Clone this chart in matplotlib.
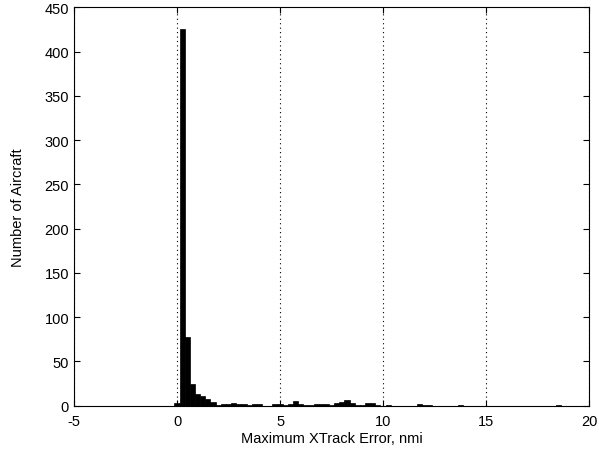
import numpy as np
import matplotlib.pyplot as plt

plt.rcParams['font.family'] = ['Liberation Sans', 'DejaVu Sans']
plt.rcParams['axes.unicode_minus'] = False

# histogram bins (centre of each bin, nmi) and counts
bin_centers = np.arange(0, 18.75, 0.25)
counts = [3, 425, 78, 25, 13, 11, 8, 4, 1, 2,
          2, 3, 2, 2, 1, 2, 2, 0, 0, 2,
          2, 1, 2, 5, 2, 1, 1, 2, 2, 2,
          1, 3, 4, 6, 3, 1, 1, 3, 3, 1,
          0, 1, 0, 0, 0, 0, 0, 2, 1, 1,
          0, 0, 0, 0, 0, 1, 0, 0, 0, 0,
          0, 0, 0, 0, 0, 0, 0, 0, 0, 0,
          0, 0, 0, 0, 1]
bin_width = 0.25

xticks = [-5, 0, 5, 10, 15, 20]
yticks = list(range(0, 451, 50))

fig = plt.figure(figsize=(5.99, 4.6), dpi=100)
ax = fig.add_axes([0.1235, 0.116, 0.86, 0.866])

ax.bar(bin_centers, counts, width=bin_width, color='black', edgecolor='black', linewidth=0.5, zorder=3)

ax.set_xlim(-5, 20)
ax.set_ylim(0, 450)
ax.set_xticks(xticks)
ax.set_yticks(yticks)
ax.xaxis.grid(True, linestyle=(0, (1, 3)), color='black', linewidth=0.8)
ax.tick_params(direction='in', top=True, right=True, labelsize=10.5, length=4)
ax.tick_params(axis='x', pad=6)

ax.set_xlabel('Maximum XTrack Error, nmi', fontsize=10.5, labelpad=2)
ax.set_ylabel('Number of Aircraft', fontsize=10.5, labelpad=14)

for s in ax.spines.values():
    s.set_linewidth(0.8)

fig.savefig('out.png', dpi=100)
